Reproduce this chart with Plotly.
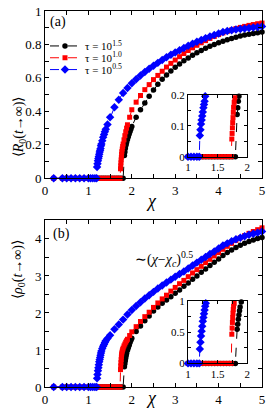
import numpy as np
import plotly.graph_objects as go

# ---------------- data ----------------
chi_blue = [0.2, 0.4, 0.5, 0.6, 0.7, 0.8, 0.9, 1.0, 1.05, 1.1, 1.15, 1.19,
            1.2, 1.21, 1.22, 1.23, 1.24, 1.25, 1.26, 1.27, 1.28, 1.29, 1.30,
            1.32, 1.34, 1.36, 1.38, 1.40, 1.44, 1.5,
            1.6, 1.7, 1.8, 1.9, 2.0, 2.1, 2.2, 2.3, 2.4, 2.5, 2.6, 2.7, 2.8, 2.9,
            3.0, 3.1, 3.2, 3.3, 3.4, 3.5, 3.6, 3.7, 3.8, 3.9,
            4.0, 4.1, 4.2, 4.3, 4.4, 4.5, 4.6, 4.7, 4.8, 4.9, 5.0]
R_blue = [0]*12 + [0.068, 0.087, 0.105, 0.118, 0.131, 0.144, 0.158, 0.168, 0.179, 0.195, 0.205,
                   0.225, 0.245, 0.262, 0.278, 0.293, 0.322, 0.365,
                   0.425, 0.47, 0.51, 0.54, 0.568, 0.592, 0.615, 0.636, 0.655, 0.673, 0.69, 0.707,
                   0.723, 0.738, 0.752, 0.766, 0.779, 0.792, 0.804, 0.816, 0.827, 0.838, 0.848,
                   0.857, 0.866, 0.874, 0.88, 0.885, 0.889, 0.893, 0.896, 0.899, 0.902, 0.905, 0.908]
rho_blue = [0]*12 + [0.233, 0.34, 0.44, 0.52, 0.60, 0.68, 0.74, 0.80, 0.86, 0.92, 0.97,
                     1.04, 1.10, 1.15, 1.20, 1.25, 1.31, 1.40,
                     1.56, 1.69, 1.82, 1.96, 2.08, 2.19, 2.29, 2.39, 2.48, 2.57, 2.66, 2.74,
                     2.82, 2.90, 2.98, 3.05, 3.12, 3.20, 3.28, 3.36, 3.44, 3.51, 3.59,
                     3.66, 3.74, 3.82, 3.88, 3.94, 3.99, 4.03, 4.07, 4.11, 4.14, 4.17, 4.20]

chi_red = [0.2, 0.4, 0.5, 0.6, 0.7, 0.8, 0.9, 1.0, 1.05, 1.1, 1.15, 1.2, 1.25, 1.3, 1.35,
           1.4, 1.45, 1.5, 1.55, 1.6, 1.65, 1.7, 1.73,
           1.74, 1.745, 1.75, 1.755, 1.76, 1.765, 1.77, 1.78, 1.79, 1.80, 1.82, 1.84, 1.86,
           1.88, 1.9, 1.95,
           2.0, 2.1, 2.2, 2.3, 2.4, 2.5, 2.6, 2.7, 2.8, 2.9,
           3.0, 3.1, 3.2, 3.3, 3.4, 3.5, 3.6, 3.7, 3.8, 3.9,
           4.0, 4.1, 4.2, 4.3, 4.4, 4.5, 4.6, 4.7, 4.8, 4.9, 5.0]
R_red = [0]*23 + [0.057, 0.075, 0.093, 0.11, 0.126, 0.143, 0.159, 0.175, 0.19, 0.205, 0.23,
                  0.255, 0.278, 0.30, 0.32, 0.365,
                  0.41, 0.455, 0.495, 0.53, 0.56, 0.59, 0.615, 0.64, 0.665, 0.687,
                  0.707, 0.727, 0.746, 0.764, 0.78, 0.795, 0.81, 0.823, 0.836, 0.848,
                  0.859, 0.869, 0.878, 0.887, 0.895, 0.902, 0.908, 0.914, 0.919, 0.924, 0.928]
rho_red = [0]*23 + [0.47, 0.57, 0.66, 0.74, 0.81, 0.87, 0.92, 0.97, 1.01, 1.05, 1.11,
                    1.16, 1.21, 1.25, 1.29, 1.39,
                    1.49, 1.63, 1.77, 1.90, 2.02, 2.15, 2.27, 2.38, 2.48, 2.59,
                    2.69, 2.79, 2.88, 2.98, 3.08, 3.17, 3.26, 3.36, 3.45, 3.54,
                    3.63, 3.72, 3.80, 3.88, 3.96, 4.03, 4.09, 4.15, 4.20, 4.25, 4.30]

chi_black = [0.2, 0.4, 0.5, 0.6, 0.7, 0.8, 0.9, 1.0, 1.05, 1.1, 1.15, 1.2, 1.25, 1.3, 1.35,
             1.4, 1.45, 1.5, 1.55, 1.6, 1.65, 1.7, 1.75, 1.8,
             1.83, 1.84, 1.85, 1.86, 1.87, 1.88, 1.9, 1.92, 1.94, 1.96, 1.98,
             2.0, 2.1, 2.2, 2.3, 2.4, 2.5, 2.6, 2.7, 2.8, 2.9,
             3.0, 3.1, 3.2, 3.3, 3.4, 3.5, 3.6, 3.7, 3.8, 3.9,
             4.0, 4.1, 4.2, 4.3, 4.4, 4.5, 4.6, 4.7, 4.8, 4.9, 5.0]
R_black = [0]*24 + [0.136, 0.158, 0.179, 0.195, 0.205, 0.215, 0.232, 0.248, 0.265, 0.28, 0.295,
                    0.31, 0.365, 0.41, 0.45, 0.49, 0.528, 0.562, 0.592, 0.618, 0.642,
                    0.664, 0.684, 0.702, 0.719, 0.735, 0.75, 0.764, 0.777, 0.789, 0.80,
                    0.81, 0.819, 0.828, 0.836, 0.843, 0.85, 0.856, 0.861, 0.866, 0.87, 0.874]
rho_black = [0]*24 + [0.55, 0.63, 0.71, 0.78, 0.85, 0.91, 0.99, 1.06, 1.13, 1.20, 1.26,
                      1.32, 1.50, 1.65, 1.79, 1.92, 2.05, 2.16, 2.26, 2.35, 2.44,
                      2.53, 2.62, 2.72, 2.81, 2.91, 3.00, 3.10, 3.19, 3.28, 3.37,
                      3.46, 3.55, 3.63, 3.70, 3.77, 3.83, 3.88, 3.93, 3.97, 4.01, 4.04]

series = [
    ("τ = 10<sup>1.5</sup>", chi_black, R_black, rho_black, "#000000", "circle", 5.5, "legend"),
    ("τ = 10<sup>1.0</sup>", chi_red, R_red, rho_red, "#ff0000", "square", 5, "legend2"),
    ("τ = 10<sup>0.5</sup>", chi_blue, R_blue, rho_blue, "#0000ff", "diamond", 6.5, "legend3"),
]

FONT = "Liberation Serif, Times New Roman, Times, serif"
fig = go.Figure()


def sel(x, y, xmin, xmax, ymax):
    x = np.asarray(x, float)
    y = np.asarray(y, float)
    m = (x >= xmin) & (x <= xmax) & (y <= ymax)
    return x[m], y[m]


for name, cx, ra, rb, col, sym, ms, lg in series:
    mk = dict(color=col, symbol=sym, size=ms, line=dict(width=0))
    ln = dict(color=col, width=1, dash="dash")
    fig.add_trace(go.Scatter(x=cx, y=ra, mode="lines+markers", name=name, marker=mk, line=ln,
                             xaxis="x", yaxis="y", cliponaxis=False, showlegend=True,
                             legend=lg))
    fig.add_trace(go.Scatter(x=cx, y=rb, mode="lines+markers", marker=mk, line=ln,
                             xaxis="x2", yaxis="y2", cliponaxis=False, showlegend=False))
    xi, yi = sel(cx, ra, 1.0, 2.0, 0.21)
    fig.add_trace(go.Scatter(x=xi, y=yi, mode="lines+markers", marker=mk, line=ln,
                             xaxis="x3", yaxis="y3", cliponaxis=False, showlegend=False))
    xi, yi = sel(cx, rb, 1.0, 2.0, 1.03)
    fig.add_trace(go.Scatter(x=xi, y=yi, mode="lines+markers", marker=mk, line=ln,
                             xaxis="x4", yaxis="y4", cliponaxis=False, showlegend=False))


def lab(vals, every, fmt):
    out = []
    for i, v in enumerate(vals):
        out.append(fmt(v) if i % every == 0 else " ")
    return out


def g(v):
    return ("%g" % round(v, 3))


axbase = dict(showline=True, linecolor="black", linewidth=1, mirror="allticks",
              ticks="inside", tickcolor="black", ticklen=4, tickwidth=1,
              showgrid=False, zeroline=False, tickfont=dict(family=FONT, size=13, color="black"),
              tickmode="array")

xt_main = [i * 0.5 for i in range(11)]
yt_a = [i * 0.1 for i in range(11)]
yt_b = [i * 0.5 for i in range(10)]
xt_in = [1.0, 1.25, 1.5, 1.75, 2.0]
yt_ina = [0, 0.05, 0.1, 0.15, 0.2]
yt_inb = [0, 0.25, 0.5, 0.75, 1.0]

dom_a = [212 / 382, 1.0]
dom_b = [0.0, 170 / 382]
dom_inx = [(190 - 45) / 220, (250 - 45) / 220]
dom_ina = [(387 - 153) / 382, (387 - 90) / 382]
dom_inb = [(387 - 363) / 382, (387 - 300) / 382]

inset_font = dict(family=FONT, size=11, color="black")


def py2paper(py):
    return 1 - (py - 5) / 382


leg_common = dict(x=0.0, xanchor="left", yanchor="middle",
                  bgcolor="rgba(0,0,0,0)", borderwidth=0,
                  font=dict(family=FONT, size=11, color="black"),
                  itemwidth=30, tracegroupgap=0)

fig.update_layout(
    width=269, height=418,
    margin=dict(l=45, r=4, t=5, b=31),
    paper_bgcolor="white", plot_bgcolor="white",
    font=dict(family=FONT, color="black"),
    xaxis=dict(axbase, domain=[0, 1], range=[0, 5], anchor="y",
               tickvals=xt_main, ticktext=lab(xt_main, 2, g)),
    yaxis=dict(axbase, domain=dom_a, range=[0, 1], anchor="x",
               tickvals=yt_a, ticktext=lab(yt_a, 2, g)),
    xaxis2=dict(axbase, domain=[0, 1], range=[0, 5], anchor="y2",
                tickvals=xt_main, ticktext=lab(xt_main, 2, g)),
    yaxis2=dict(axbase, domain=dom_b, range=[0, 4.52], anchor="x2",
                tickvals=yt_b, ticktext=lab(yt_b, 2, g)),
    xaxis3=dict(axbase, domain=dom_inx, range=[1, 2], anchor="y3", ticklen=3,
                tickfont=inset_font, tickvals=xt_in, ticktext=lab(xt_in, 2, g)),
    yaxis3=dict(axbase, domain=dom_ina, range=[0, 0.2], anchor="x3", ticklen=3,
                tickfont=inset_font, tickvals=yt_ina, ticktext=lab(yt_ina, 2, g)),
    xaxis4=dict(axbase, domain=dom_inx, range=[1, 2], anchor="y4", ticklen=3,
                tickfont=inset_font, tickvals=xt_in, ticktext=lab(xt_in, 2, g)),
    yaxis4=dict(axbase, domain=dom_inb, range=[0, 1], anchor="x4", ticklen=3,
                tickfont=inset_font, tickvals=yt_inb, ticktext=lab(yt_inb, 2, g)),
    legend=dict(leg_common, y=py2paper(40.5)),
    legend2=dict(leg_common, y=py2paper(52.5)),
    legend3=dict(leg_common, y=py2paper(64.5)),
    showlegend=True,
)

ann = [
    dict(text="(a)", x=0.3, y=0.935, xref="x", yref="y", showarrow=False,
         font=dict(family=FONT, size=14)),
    dict(text="(b)", x=0.39, y=4.13, xref="x2", yref="y2", showarrow=False,
         font=dict(family=FONT, size=14)),
    dict(text="∼(<i>χ</i>−<i>χ</i><sub><i>c</i></sub>)<sup>0.5</sup>", x=2.74, y=3.45,
         xref="x2", yref="y2", showarrow=False, font=dict(family=FONT, size=14)),
    dict(text="⟨<i>R</i><sub>0</sub>(<i>t</i>→∞)⟩", x=-0.168, y=(387 - 90) / 382,
         xref="paper", yref="paper", textangle=-90, showarrow=False,
         font=dict(family=FONT, size=14)),
    dict(text="⟨<i>ρ</i><sub>0</sub>(<i>t</i>→∞)⟩", x=-0.168, y=(387 - 300) / 382,
         xref="paper", yref="paper", textangle=-90, showarrow=False,
         font=dict(family=FONT, size=14)),
    dict(text="<i>χ</i>", x=0.49, y=(387 - 198) / 382, xref="paper", yref="paper",
         showarrow=False, font=dict(family=FONT, size=18)),
    dict(text="<i>χ</i>", x=0.49, y=(387 - 410) / 382, xref="paper", yref="paper",
         showarrow=False, font=dict(family=FONT, size=18)),
]
fig.update_layout(annotations=ann)

fig.write_html("out.html", config={"displayModeBar": False},
               post_script="document.body.style.margin='0';document.body.style.overflow='hidden';")
